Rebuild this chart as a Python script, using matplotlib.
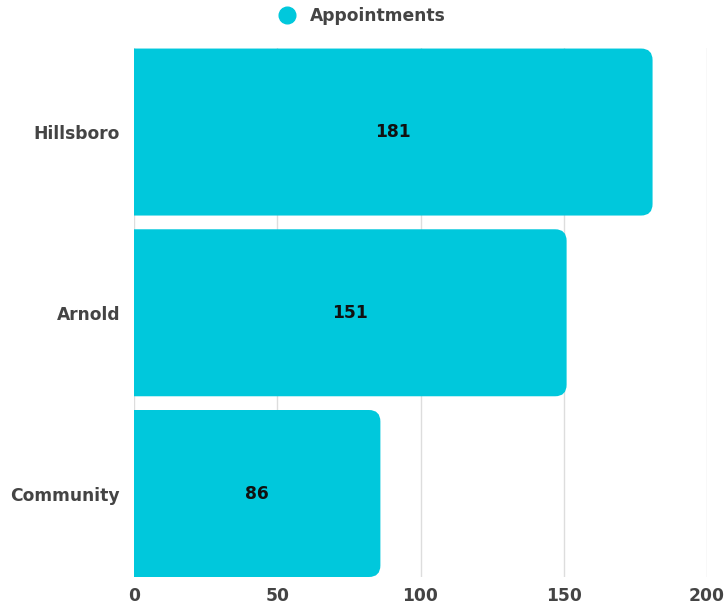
import matplotlib.pyplot as plt
from matplotlib.patches import FancyBboxPatch

plt.rcParams['font.family'] = ['DejaVu Sans']

# Data
locations = ['Hillsboro', 'Arnold', 'Community']
appointments = [181, 151, 86]
x_ticks = [0, 50, 100, 150, 200]

bar_color = '#00C8DC'
text_gray = '#444444'
fs = 12.3

fig = plt.figure(figsize=(7.24, 6.07), dpi=100)
ax = fig.add_axes([134 / 724, 30 / 607, 573 / 724, 529 / 607])

ypos = list(range(len(locations)))
bars = ax.barh(ypos, appointments, height=0.924, color=bar_color)

# swap plain bars for ones with rounded right corners
r_x = 4.0
aspect = 0.064 / r_x
for b in bars:
    x0, y0 = b.get_x(), b.get_y()
    w, h = b.get_width(), b.get_height()
    b.set_visible(False)
    p = FancyBboxPatch((x0 - 2 * r_x, y0), w + 2 * r_x, h,
                       boxstyle=f'round,pad=0,rounding_size={r_x}',
                       mutation_aspect=aspect, facecolor=bar_color,
                       edgecolor='none', zorder=3)
    ax.add_patch(p)
    ax.text(x0 + w / 2, y0 + h / 2, str(w), ha='center', va='center',
            fontsize=fs, fontweight='bold', color='#111111', zorder=4)

ax.set_xlim(0, 200)
ax.set_ylim(len(locations) - 1 + 0.462, -0.465)
ax.set_xticks(x_ticks)
ax.set_yticks(ypos)
ax.set_yticklabels(locations)
ax.grid(axis='x', color='#dddddd', linewidth=1, zorder=0)
ax.set_axisbelow(True)
for s in ax.spines.values():
    s.set_visible(False)
ax.tick_params(length=0, labelsize=fs, labelcolor=text_gray)
ax.tick_params(axis='y', pad=10)
ax.tick_params(axis='x', pad=7)
for lbl in ax.get_xticklabels() + ax.get_yticklabels():
    lbl.set_fontweight('bold')

# legend at top center
fig.legend(handles=[plt.Line2D([], [], marker='o', linestyle='none',
                               markersize=12, color=bar_color)],
           labels=['Appointments'], loc='center', bbox_to_anchor=(0.494, 1 - 16 / 607),
           frameon=False, handletextpad=0.3, prop={'weight': 'bold', 'size': fs},
           labelcolor=text_gray)

fig.savefig('out.png', dpi=100)
